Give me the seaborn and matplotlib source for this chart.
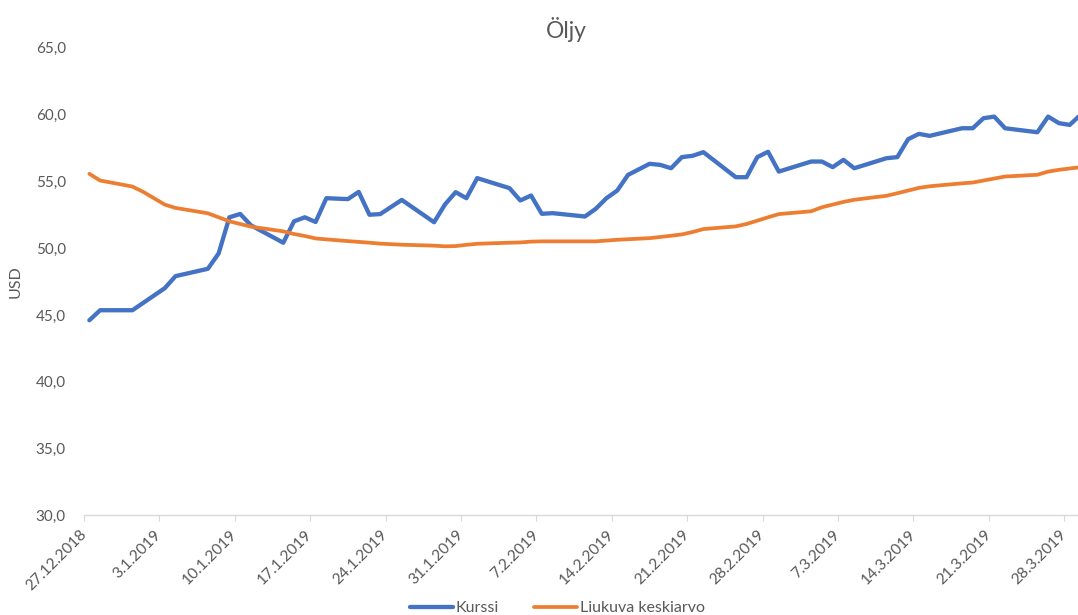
import matplotlib
matplotlib.use("Agg")
import matplotlib.pyplot as plt
import matplotlib.ticker as mticker
import pandas as pd
import seaborn as sns

# Data (daily oil price, USD)
dates = [
    "2018-12-27", "2018-12-28", "2018-12-31", "2019-01-01", "2019-01-03", "2019-01-04",
    "2019-01-07", "2019-01-08", "2019-01-09", "2019-01-10", "2019-01-11", "2019-01-14",
    "2019-01-15", "2019-01-16", "2019-01-17", "2019-01-18", "2019-01-20", "2019-01-21",
    "2019-01-22", "2019-01-23", "2019-01-25", "2019-01-28", "2019-01-29", "2019-01-30",
    "2019-01-31", "2019-02-01", "2019-02-04", "2019-02-05", "2019-02-06", "2019-02-07",
    "2019-02-08", "2019-02-11", "2019-02-12", "2019-02-13", "2019-02-14", "2019-02-15",
    "2019-02-17", "2019-02-18", "2019-02-19", "2019-02-20", "2019-02-21", "2019-02-22",
    "2019-02-25", "2019-02-26", "2019-02-27", "2019-02-28", "2019-03-01", "2019-03-04",
    "2019-03-05", "2019-03-06", "2019-03-07", "2019-03-08", "2019-03-11", "2019-03-12",
    "2019-03-13", "2019-03-14", "2019-03-15", "2019-03-18", "2019-03-19", "2019-03-20",
    "2019-03-21", "2019-03-22", "2019-03-25", "2019-03-26", "2019-03-27", "2019-03-28",
    "2019-03-29",
]
kurssi = [
    44.6, 45.35, 45.35, 45.9, 47.0, 47.9, 48.45, 49.6, 52.3, 52.55, 51.7, 50.4,
    52.0, 52.3, 51.95, 53.73, 53.66, 54.2, 52.49, 52.54, 53.6, 51.93, 53.25, 54.18,
    53.73, 55.23, 54.48, 53.56, 53.93, 52.56, 52.61, 52.36, 52.93, 53.73, 54.3, 55.47,
    56.3, 56.22, 55.97, 56.8, 56.9, 57.17, 55.3, 55.3, 56.8, 57.2, 55.72, 56.47,
    56.47, 56.05, 56.6, 55.97, 56.72, 56.8, 58.14, 58.54, 58.39, 58.96, 58.96, 59.71,
    59.83, 58.96, 58.66, 59.83, 59.34, 59.21, 59.96,
]
liukuva = [
    55.55, 55.05, 54.6, 54.2, 53.25, 53.0, 52.6, 52.3, 52.0, 51.8, 51.6, 51.25,
    51.05, 50.9, 50.72, 50.65, 50.52, 50.46, 50.4, 50.33, 50.25, 50.18, 50.13, 50.15,
    50.24, 50.32, 50.4, 50.42, 50.48, 50.5, 50.5, 50.5, 50.5, 50.56, 50.62, 50.66,
    50.74, 50.83, 50.92, 51.02, 51.2, 51.42, 51.62, 51.8, 52.05, 52.3, 52.54, 52.75,
    53.05, 53.25, 53.45, 53.61, 53.91, 54.1, 54.3, 54.5, 54.62, 54.84, 54.9, 55.05,
    55.2, 55.35, 55.48, 55.72, 55.85, 55.95, 56.05,
]

tick_dates = pd.date_range("2018-12-27", "2019-03-28", freq="7D")

sns.set_theme(style="white")
plt.rcParams["font.family"] = ["Lato", "DejaVu Sans"]

grey = "#595959"
axis_grey = "#D9D9D9"

# Excel date axis puts each point in the middle of its day
df = pd.DataFrame({
    "date": pd.to_datetime(dates) + pd.Timedelta(hours=12),
    "Kurssi": kurssi,
    "Liukuva keskiarvo": liukuva,
})

fig = plt.figure(figsize=(10.78, 6.15), dpi=100)
ax = fig.add_axes([0.0779, 0.1618, 0.9221, 0.761])

sns.lineplot(data=df, x="date", y="Kurssi", ax=ax, color="#4472C4", linewidth=3.1,
             label="Kurssi", solid_capstyle="round", solid_joinstyle="round")
sns.lineplot(data=df, x="date", y="Liukuva keskiarvo", ax=ax, color="#ED7D31", linewidth=2.7,
             label="Liukuva keskiarvo", solid_capstyle="round", solid_joinstyle="round")

ax.set_ylim(30, 65)
ax.set_yticks(range(30, 66, 5))
ax.yaxis.set_major_formatter(mticker.FuncFormatter(lambda v, p: f"{v:.1f}".replace(".", ",")))
ax.set_xlim(pd.Timestamp("2018-12-27"), pd.Timestamp("2019-03-29 06:30"))
ax.set_xticks(tick_dates)
ax.set_xticklabels([f"{d.day}.{d.month}.{d.year}" for d in tick_dates],
                   rotation=45, ha="right", va="center", rotation_mode="anchor")

for s in ["top", "right", "left"]:
    ax.spines[s].set_visible(False)
ax.spines["bottom"].set_color(axis_grey)
ax.spines["bottom"].set_linewidth(1)
ax.tick_params(axis="x", direction="out", length=4.3, width=0.8, color=axis_grey,
               labelsize=11.2, labelcolor=grey, pad=8, bottom=True)
ax.tick_params(axis="y", length=0, labelsize=11, labelcolor=grey, pad=13)
ax.grid(False)

ax.set_xlabel("")
ax.set_ylabel("USD", fontsize=11.5, color=grey)
ax.yaxis.set_label_coords(-0.0615, 0.5)

fig.text(566 / 1078, 1 - 29 / 615, "Öljy", ha="center", va="center", fontsize=16.5, color=grey)

handles, labels = ax.get_legend_handles_labels()
ax.get_legend().remove()
fig.legend(handles, labels, loc="center", bbox_to_anchor=(0.517, 0.011), ncol=2, frameon=False,
           fontsize=11.5, handlelength=2.7, handletextpad=0.15, columnspacing=2.2, labelcolor=grey)

fig.savefig("out.png", dpi=100)
